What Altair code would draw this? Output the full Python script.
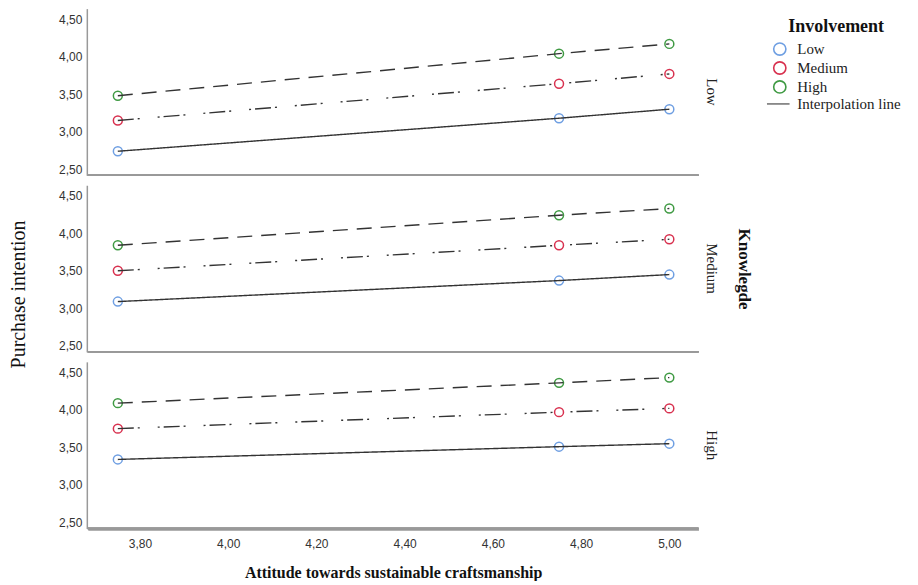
import altair as alt
import pandas as pd

# ---- data ----
attitude = [3.75, 4.75, 5.00]
involvement_levels = ["Low", "Medium", "High"]
knowledge_levels = ["Low", "Medium", "High"]

# purchase intention, knowledge = Low
k_low_inv_low = [2.74, 3.18, 3.30]
k_low_inv_medium = [3.15, 3.64, 3.77]
k_low_inv_high = [3.48, 4.04, 4.17]
# knowledge = Medium
k_med_inv_low = [3.09, 3.37, 3.45]
k_med_inv_medium = [3.50, 3.84, 3.92]
k_med_inv_high = [3.84, 4.24, 4.33]
# knowledge = High
k_high_inv_low = [3.34, 3.51, 3.55]
k_high_inv_medium = [3.75, 3.97, 4.02]
k_high_inv_high = [4.09, 4.36, 4.43]

x_ticks = [3.80, 4.00, 4.20, 4.40, 4.60, 4.80, 5.00]
y_ticks = [2.50, 3.00, 3.50, 4.00, 4.50]

legend_domain = ["Low", "Medium", "High", "Interpolation line"]
legend_colors = ["#6f9fe2", "#d8314f", "#3f9a43", "#777777"]
legend_shapes = ["circle", "circle", "circle", "M-2.1,0L1.6,0"]

series = {
    ("Low", "Low"): k_low_inv_low,
    ("Low", "Medium"): k_low_inv_medium,
    ("Low", "High"): k_low_inv_high,
    ("Medium", "Low"): k_med_inv_low,
    ("Medium", "Medium"): k_med_inv_medium,
    ("Medium", "High"): k_med_inv_high,
    ("High", "Low"): k_high_inv_low,
    ("High", "Medium"): k_high_inv_medium,
    ("High", "High"): k_high_inv_high,
}

rows = []
for (kn, inv), vals in series.items():
    for a, v in zip(attitude, vals):
        rows.append({"knowledge": kn, "involvement": inv, "attitude": a, "pi": v})
df = pd.DataFrame(rows)

W, H = 612, 167
SERIF = "Liberation Serif"
SANS = "Liberation Sans"
comma = "replace(format(datum.value, '.2f'), '.', ',')"

x_enc = alt.X(
    "attitude:Q",
    scale=alt.Scale(domain=[3.682, 5.066], nice=False, zero=False),
    axis=alt.Axis(
        values=x_ticks, labelExpr=comma, ticks=False, grid=False,
        title="Attitude towards sustainable craftsmanship",
        titleFont=SERIF, titleFontWeight="bold", titleFontSize=16,
        titlePadding=15, labelPadding=9,
    ),
)
y_enc = alt.Y(
    "pi:Q",
    scale=alt.Scale(domain=[2.42, 4.64], nice=False, zero=False),
    axis=alt.Axis(
        values=y_ticks, labelExpr=comma, ticks=False, grid=False,
        title=None, labelPadding=5,
    ),
)

base = alt.Chart(df)

points = base.mark_point(filled=False, size=80, strokeWidth=1.5, opacity=1).encode(
    x=x_enc,
    y=y_enc,
    color=alt.Color(
        "involvement:N",
        scale=alt.Scale(domain=legend_domain, range=legend_colors),
        legend=alt.Legend(title="Involvement"),
    ),
    shape=alt.Shape(
        "involvement:N",
        scale=alt.Scale(domain=legend_domain, range=legend_shapes),
        legend=alt.Legend(title="Involvement"),
    ),
)

lines = base.mark_line(color="#333333", strokeWidth=1.4).encode(
    x=x_enc,
    y=y_enc,
    detail="involvement:N",
    strokeDash=alt.StrokeDash(
        "involvement:N",
        scale=alt.Scale(
            domain=involvement_levels,
            range=[[1, 0], [16, 4, 2, 18, 2, 4], [15, 9]],
        ),
        legend=None,
    ),
)

frame = base.mark_rule(color="#999999", strokeWidth=1.5).encode(
    x=alt.value(0), x2=alt.value(W), y=alt.value(H)
)

layered = alt.layer(frame, points, lines).properties(width=W, height=H)

chart = layered.facet(
    row=alt.Row(
        "knowledge:N",
        sort=knowledge_levels,
        header=alt.Header(
            title="Knowlegde", titleOrient="right", titleAngle=90,
            titleFont=SERIF, titleFontWeight="bold", titleFontSize=17, titleColor="#111",
            labelOrient="right", labelAngle=90, labelFont=SERIF, labelFontSize=15,
            labelColor="#222", labelPadding=5, titlePadding=6,
        ),
    ),
    spacing=9,
).properties(
    padding=0,
    title=alt.TitleParams(
        "Purchase intention", orient="left", anchor="middle", font=SERIF,
        fontSize=20, fontWeight="normal", color="#111", offset=30,
    ),
).configure_view(stroke=None).configure_axis(
    domainColor="#999999", domainWidth=1.5, labelFont=SANS, labelFontSize=12,
    labelColor="#333333", titleColor="#111111",
).configure_legend(
    orient="right", offset=10, padding=9, titleFont=SERIF, titleFontSize=18,
    titleFontWeight="bold", titleColor="#111", labelFont=SERIF, labelFontSize=15,
    labelColor="#222", symbolSize=150, symbolStrokeWidth=1.6, rowPadding=0,
    titlePadding=6, titleAnchor="middle", labelOffset=10,
)

chart.save("out.html", embed_options={"renderer": "svg", "actions": False})
